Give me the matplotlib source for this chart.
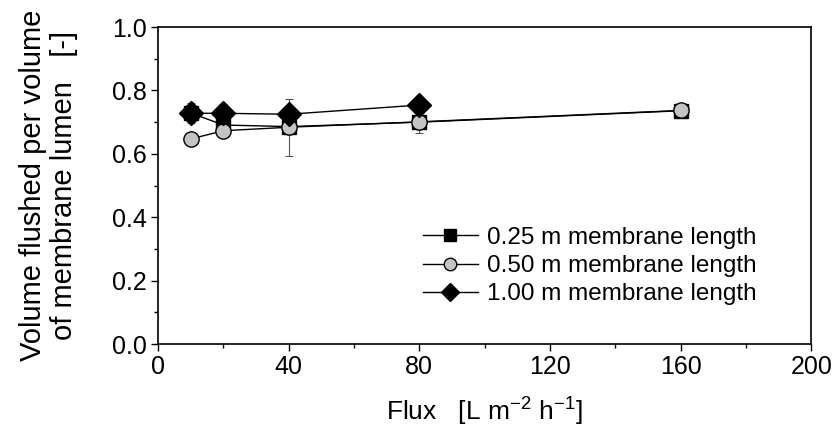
import matplotlib
matplotlib.use("Agg")
import matplotlib.pyplot as plt
from matplotlib.ticker import MultipleLocator, FormatStrFormatter
from matplotlib.lines import Line2D

plt.rcParams["font.family"] = ["Liberation Sans", "DejaVu Sans"]
plt.rcParams["mathtext.fontset"] = "custom"
plt.rcParams["mathtext.rm"] = "Liberation Sans"
plt.rcParams["mathtext.it"] = "Liberation Sans"

# flux [L m-2 h-1]
flux_025 = [10, 20, 40, 80, 160]
vol_025 = [0.729, 0.691, 0.686, 0.700, 0.736]
err_025 = [0.032, 0.010, 0.010, 0.033, 0.010]

flux_050 = [10, 20, 40, 80, 160]
vol_050 = [0.647, 0.673, 0.684, 0.701, 0.737]
err_050 = [0.010, 0.010, 0.090, 0.010, 0.010]

flux_100 = [10, 20, 40, 80]
vol_100 = [0.728, 0.728, 0.725, 0.754]
err_100 = [0.010, 0.030, 0.010, 0.010]

labels = ["0.25 m membrane length", "0.50 m membrane length", "1.00 m membrane length"]

fig = plt.figure(figsize=(8.32, 4.30), dpi=100)
ax = fig.add_axes([0.190, 0.200, 0.785, 0.737])

ebkw = dict(color="black", ecolor="#555555", elinewidth=0.8, capsize=3, capthick=0.8, lw=1.0)
ax.errorbar(flux_025, vol_025, yerr=err_025, marker="s", ms=10, mfc="black", mec="black", **ebkw)
ax.errorbar(flux_050, vol_050, yerr=err_050, marker="o", ms=11, mfc="#c4c4c4", mec="black", **ebkw)
ax.errorbar(flux_100, vol_100, yerr=err_100, marker="D", ms=12, mfc="black", mec="black", **ebkw)

ax.set_xlim(0, 200)
ax.set_ylim(0, 1.0)
ax.xaxis.set_major_locator(MultipleLocator(40))
ax.xaxis.set_minor_locator(MultipleLocator(20))
ax.yaxis.set_major_locator(MultipleLocator(0.2))
ax.yaxis.set_minor_locator(MultipleLocator(0.1))
ax.yaxis.set_major_formatter(FormatStrFormatter("%.1f"))
ax.tick_params(which="major", direction="out", length=5, width=1, labelsize=18, pad=3)
ax.tick_params(which="minor", direction="out", length=3, width=1)
for s in ax.spines.values():
    s.set_linewidth(1.2)

ax.set_xlabel(r"Flux   [L m$^{\mathregular{-2}}$ h$^{\mathregular{-1}}$]", fontsize=19)
ax.xaxis.set_label_coords(0.5, -0.165)
ax.set_ylabel("Volume flushed per volume\nof membrane lumen   [-]", fontsize=21,
              linespacing=1.15)
ax.yaxis.set_label_coords(-0.122, 0.5)

handles = [
    Line2D([0], [0], color="black", lw=1.0, marker="s", ms=8, mfc="black", mec="black"),
    Line2D([0], [0], color="black", lw=1.0, marker="o", ms=9, mfc="#c4c4c4", mec="black"),
    Line2D([0], [0], color="black", lw=1.0, marker="D", ms=9, mfc="black", mec="black"),
]
ax.legend(handles, labels, loc="upper left", bbox_to_anchor=(0.39, 0.40), frameon=False,
          fontsize=17.5, handlelength=2.3, labelspacing=0.25, handletextpad=0.35,
          borderaxespad=0)

fig.savefig("out.png", dpi=100)
